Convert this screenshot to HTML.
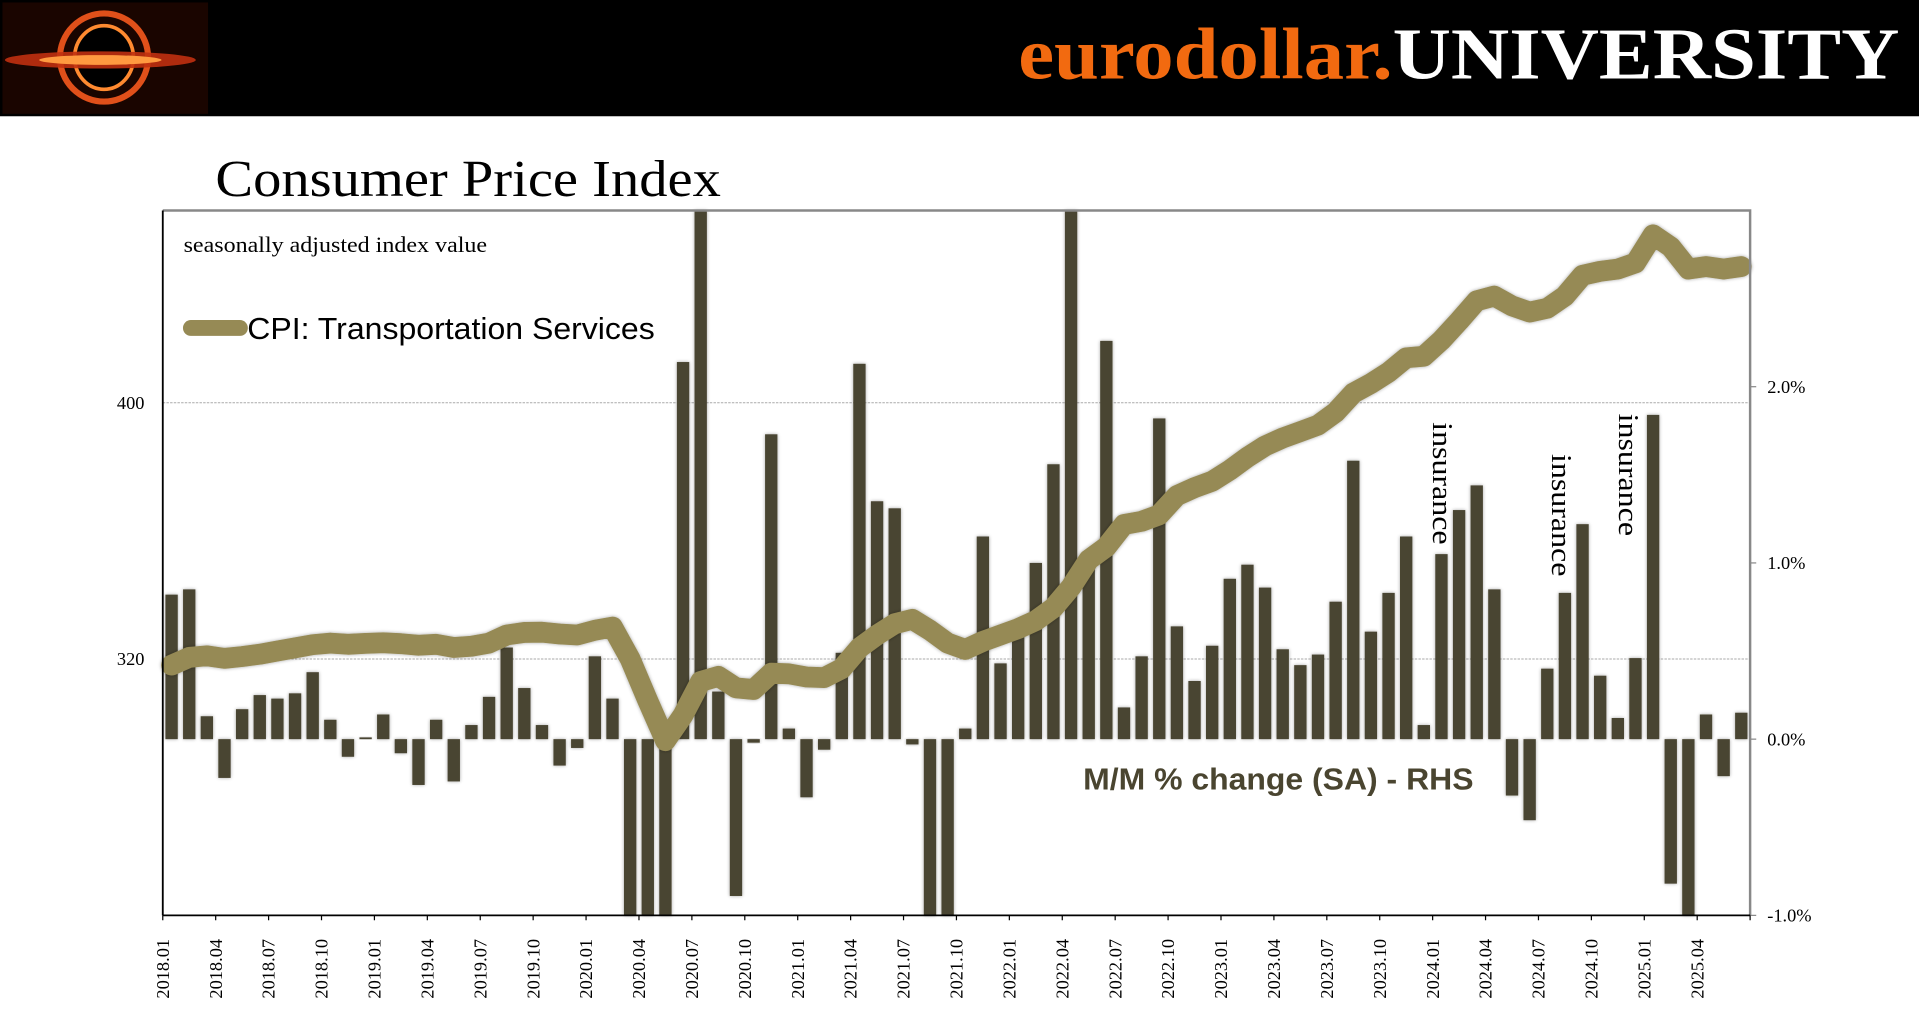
<!DOCTYPE html>
<html><head><meta charset="utf-8"><style>
html,body{margin:0;padding:0;background:#fff;overflow:hidden}
svg{display:block}
</style></head><body>
<svg id="chart" width="1919" height="1020" viewBox="0 0 1568 833.5" preserveAspectRatio="none" xmlns="http://www.w3.org/2000/svg">
<defs>
<filter id="sh" x="-30%" y="-30%" width="160%" height="160%"><feGaussianBlur in="SourceAlpha" stdDeviation="1.5"/><feOffset dx="0" dy="0"/><feComponentTransfer><feFuncA type="linear" slope="0.35"/></feComponentTransfer><feMerge><feMergeNode/><feMergeNode in="SourceGraphic"/></feMerge></filter>
</defs>
<rect x="0" y="0" width="1568" height="95" fill="#000"/>
<g>
<rect x="2" y="2" width="168" height="91" fill="#1a0500"/>
<ellipse cx="85" cy="47" rx="36" ry="36" fill="none" stroke="#e0501a" stroke-width="5"/>
<ellipse cx="85" cy="47" rx="24" ry="26" fill="#000" stroke="#ff8a30" stroke-width="3"/>
<ellipse cx="82" cy="49" rx="78" ry="7" fill="#c03010" opacity="0.9"/>
<ellipse cx="82" cy="49" rx="50" ry="4" fill="#ff9a40"/>
</g>
<text x="832" y="64" textLength="720" lengthAdjust="spacingAndGlyphs" font-family="'Liberation Serif',serif" font-weight="bold" font-size="60"><tspan fill="#f26a10">eurodollar.</tspan><tspan fill="#fff">UNIVERSITY</tspan></text>
<text x="176" y="160" textLength="413" lengthAdjust="spacingAndGlyphs" font-family="'Liberation Serif',serif" font-size="42" fill="#000">Consumer Price Index</text>
<g id="grid"></g>
<g id="bars"></g>
<g id="line"></g>
<g id="axes"></g>
<text x="150" y="206" textLength="248" lengthAdjust="spacingAndGlyphs" font-family="'Liberation Serif',serif" font-size="18" fill="#000">seasonally adjusted index value</text>
<line x1="156" y1="268" x2="196" y2="268" stroke="#968a55" stroke-width="13" stroke-linecap="round"/>
<text x="202" y="277" textLength="333" lengthAdjust="spacingAndGlyphs" font-family="'Liberation Sans',sans-serif" font-size="25" fill="#000">CPI: Transportation Services</text>
<text x="885" y="645" textLength="319" lengthAdjust="spacingAndGlyphs" font-family="'Liberation Sans',sans-serif" font-weight="bold" font-size="25" fill="#4a4530">M/M % change (SA) - RHS</text>
<text transform="translate(1171,345) rotate(90)" textLength="100" lengthAdjust="spacingAndGlyphs" font-family="'Liberation Serif',serif" font-size="23" fill="#000">insurance</text>
<text transform="translate(1268,371) rotate(90)" textLength="100" lengthAdjust="spacingAndGlyphs" font-family="'Liberation Serif',serif" font-size="23" fill="#000">insurance</text>
<text transform="translate(1323,338) rotate(90)" textLength="100" lengthAdjust="spacingAndGlyphs" font-family="'Liberation Serif',serif" font-size="23" fill="#000">insurance</text>
</svg>
<script>
const months = [];
for (let y = 2018; y <= 2025; y++) for (let m = 1; m <= 12; m++) { if (y === 2025 && m > 6) break; months.push(y + '.' + String(m).padStart(2, '0')); }
const cpiLevel = [318.1,320.5,321,320.2,320.8,321.5,322.5,323.5,324.5,325,324.6,324.9,325.1,324.8,324.3,324.6,323.6,324,325,327.5,328.3,328.4,327.8,327.5,329,330,320,307,294.5,302.5,313,314.6,311,310.5,315.6,315.4,314.4,314.2,317,323.5,327.5,331,332.4,329,325,323,325.5,327.5,329.5,332,336,342.5,351,355,362,363,365,371,373.5,375.5,379,383,386.5,389,391,393,397,403,406,409.5,414,414.5,419.5,425.5,431.8,433.3,430.2,428.3,429.5,433.3,439.8,441,441.7,443.6,452.4,448.6,441.7,442.5,441.7,442.5];
const momChange = [0.82,0.85,0.13,-0.22,0.17,0.25,0.23,0.26,0.38,0.11,-0.1,0.01,0.14,-0.08,-0.26,0.11,-0.24,0.08,0.24,0.52,0.29,0.08,-0.15,-0.05,0.47,0.23,-1.5,-1.5,-1.5,2.14,3.5,0.27,-0.89,-0.02,1.73,0.06,-0.33,-0.06,0.49,2.13,1.35,1.31,-0.03,-1.5,-1.5,0.06,1.15,0.43,0.6,1.0,1.56,3.5,1.05,2.26,0.18,0.47,1.82,0.64,0.33,0.53,0.91,0.99,0.86,0.51,0.42,0.48,0.78,1.58,0.61,0.83,1.15,0.08,1.05,1.3,1.44,0.85,-0.32,-0.46,0.4,0.83,1.22,0.36,0.12,0.46,1.84,-0.82,-1.5,0.14,-0.21,0.15];
const leftTicks = [320, 400];
const rightTicks = [-1, 0, 1, 2];
const rightTickLabels = ['-1.0%','0.0%','1.0%','2.0%'];

const NS = 'http://www.w3.org/2000/svg';
const X0 = 133, X1 = 1430, Y0 = 172, Y1 = 748;
const bw = (X1 - X0) / months.length;
const xBand = i => X0 + bw * i;
const xC = i => X0 + bw * (i + 0.5);
const yL = v => Y1 - (v - 240) / 220 * (Y1 - Y0);
const yR = v => Y1 - (v + 1) / 4 * (Y1 - Y0);
const clampY = y => Math.max(Y0, Math.min(Y1, y));
function mk(tag, attrs, parent) { const e = document.createElementNS(NS, tag); for (const k in attrs) e.setAttribute(k, attrs[k]); parent.appendChild(e); return e; }

const grid = document.getElementById('grid');
leftTicks.forEach(t => {
  const g = mk('line', {x1: X0, x2: X1, y1: yL(t), y2: yL(t), stroke: '#aaa', 'stroke-width': 0.8, 'stroke-dasharray': '2,1'}, grid);
  
  
});

const bars = document.getElementById('bars');
momChange.forEach((v, i) => {
  const y0 = yR(0), y1 = clampY(yR(v));
  const r = mk('rect', {x: xC(i) - bw * 0.35, width: bw * 0.7, y: Math.min(y0, y1), height: Math.abs(y1 - y0), fill: '#4a4530', filter: 'url(#sh)'}, bars);
  
  
});

const lineG = document.getElementById('line');
const pts = cpiLevel.map((v, i) => xC(i).toFixed(1) + ',' + yL(v).toFixed(1)).join(' ');
const pl = mk('polyline', {points: pts, fill: 'none', stroke: '#968a55', 'stroke-width': 17, 'stroke-linejoin': 'round', 'stroke-linecap': 'round', filter: 'url(#sh)'}, lineG);



const ax = document.getElementById('axes');
const frame = mk('polyline', {points: `${X0},${Y0} ${X1},${Y0} ${X1},${Y1}`, fill: 'none', stroke: '#888', 'stroke-width': 2}, ax);


const la = mk('line', {x1: X0, x2: X0, y1: Y0, y2: Y1, stroke: '#000', 'stroke-width': 1.5}, ax);


const ba = mk('line', {x1: X0, x2: X1, y1: Y1, y2: Y1, stroke: '#000', 'stroke-width': 1.5}, ax);


leftTicks.forEach(t => {
  const tx = mk('text', {x: 118, y: yL(t) + 5, 'text-anchor': 'end', 'font-family': "'Liberation Serif',serif", 'font-size': 15}, ax);
  tx.textContent = t;
  
  
});
rightTicks.forEach((t, k) => {
  mk('line', {x1: X1, x2: X1 + 5, y1: yR(t), y2: yR(t), stroke: '#888', 'stroke-width': 1}, ax);
  const tx = mk('text', {x: 1444, y: yR(t) + 5, 'font-family': "'Liberation Serif',serif", 'font-size': 15}, ax);
  tx.textContent = rightTickLabels[k];
  
  
});
months.forEach((m, i) => {
  if (i % 3 !== 0) return;
  mk('line', {x1: xBand(i), x2: xBand(i), y1: Y1, y2: Y1 + 4, stroke: '#000', 'stroke-width': 1}, ax);
  const tx = mk('text', {transform: `translate(${xBand(i) + 5},${Y1 + 68}) rotate(-90)`, 'font-family': "'Liberation Serif',serif", 'font-size': 15}, ax);
  tx.textContent = m;
  
  
});
mk('line', {x1: X1, x2: X1, y1: Y1, y2: Y1 + 4, stroke: '#000', 'stroke-width': 1}, ax);
</script>
</body></html>
